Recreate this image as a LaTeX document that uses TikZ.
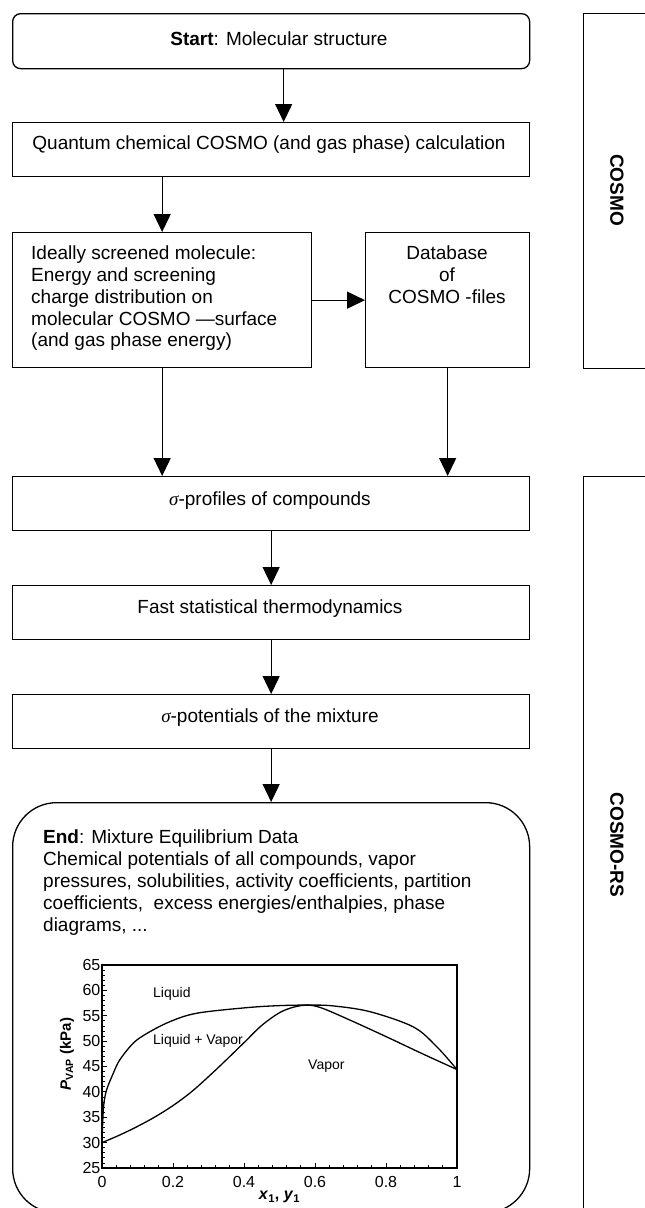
\documentclass[tikz,border=0pt]{standalone}
\usepackage{fontspec}
\setmainfont{Liberation Sans}
\newfontfamily\timesfont{Liberation Serif}
\usetikzlibrary{arrows.meta}
\begin{document}
\begin{tikzpicture}[x=1pt,y=-1pt,
  box/.style={draw, line width=1.3pt, inner sep=0pt, anchor=north west},
  txt/.style={inner sep=0pt, font=\fontsize{19}{21.8}\selectfont},
  arr/.style={line width=1.3pt, -{Triangle[length=18pt,width=17pt]}},
  side/.style={inner sep=0pt, font=\fontsize{19}{21.8}\selectfont\bfseries, rotate=-90},
  ticklab/.style={inner sep=0pt, font=\fontsize{16}{18}\selectfont},
  reglab/.style={inner sep=0pt, font=\fontsize{14}{16}\selectfont, anchor=base west},
  curve/.style={line width=1.3pt, line join=round}
]
\useasboundingbox (0,0) rectangle (645,1208);
\clip (0,0) rectangle (645,1208);
\fill[white] (0,0) rectangle (645,1208);

% boxes
\node[box, rounded corners=8pt, minimum width=517pt, minimum height=55pt] (start) at (12,13) {};
\node[box, minimum width=517pt, minimum height=54pt] (quant) at (12,122) {};
\node[box, minimum width=299pt, minimum height=135pt] (ideal) at (12,232) {};
\node[box, minimum width=164pt, minimum height=135pt] (db) at (365,232) {};
\node[box, minimum width=517pt, minimum height=54pt] (sigp) at (12,476) {};
\node[box, minimum width=517pt, minimum height=54pt] (fast) at (12,585) {};
\node[box, minimum width=517pt, minimum height=54pt] (sigpot) at (12,694) {};
\node[box, rounded corners=44pt, minimum width=517pt, minimum height=410pt] (end) at (12,802) {};
\node[box, minimum width=100pt, minimum height=355pt] (cosmo) at (583,13) {};
\node[box, minimum width=100pt, minimum height=760pt] (cosmors) at (583,476) {};

% texts
\node[txt] (tstart) at (279,39) {\textbf{Start}: Molecular structure};
\node[txt] (tquant) at (269,145) {Quantum chemical COSMO (and gas phase) calculation};
\node[txt, align=left, anchor=west] (tideal) at (31,298.4) {Ideally screened molecule:\\Energy and screening\\charge distribution on\\molecular COSMO —surface\\(and gas phase energy)};
\node[txt, align=center] (tdb) at (447,275) {Database\\of\\COSMO -files};
\node[txt] (tsigp) at (270,501) {{\timesfont\itshape σ}-profiles of compounds};
\node[txt] (tfast) at (270,609) {Fast statistical thermodynamics};
\node[txt] (tsigpot) at (270,718) {{\timesfont\itshape σ}-potentials of the mixture};
\node[txt, align=left, anchor=west, font=\fontsize{19}{22}\selectfont] (tend) at (43,883) {\textbf{End}: Mixture Equilibrium Data\\Chemical potentials of all compounds, vapor\\pressures, solubilities, activity coefficients, partition\\coefficients, \ excess energies/enthalpies, phase\\diagrams, ...};
\node[side] (lcosmo) at (617,190) {COSMO};
\node[side] (lcosmors) at (617,845) {COSMO-RS};

% arrows
\draw[arr] ([xshift=12.5pt]start.south) -- ([xshift=12.5pt]start.south |- quant.north);
\draw[arr] (quant.south -| ideal.north) -- (ideal.north);
\draw[arr] (ideal.east) -- (db.west);
\draw[arr] (ideal.south) -- (ideal.south |- sigp.north);
\draw[arr] (db.south) -- (db.south |- sigp.north);
\draw[arr] (sigp.south) -- (fast.north);
\draw[arr] (fast.south) -- (sigpot.north);
\draw[arr] (sigpot.south) -- (end.north);

% plot
\begin{scope}[shift={(102,1168)}, x=355pt, y=5.075pt]
  \draw[line width=1.2pt] (0,0) rectangle (1,40);
  \foreach \v in {0,5,...,40} \draw[line width=1pt] (0,\v) -- ++(5pt,0);
  \foreach \v in {1,...,39} \draw[line width=0.8pt] (0,\v) -- ++(3pt,0);
  \foreach \u in {0,0.2,0.4,0.6,0.8,1} \draw[line width=1pt] (\u,0) -- ++(0,5pt);
  \foreach \u in {0.04,0.08,0.12,0.16,0.24,0.28,0.32,0.36,0.44,0.48,0.52,0.56,0.64,0.68,0.72,0.76,0.84,0.88,0.92,0.96} \draw[line width=0.8pt] (\u,0) -- ++(0,3pt);
  \foreach \v/\l in {0/25,5/30,10/35,15/40,20/45,25/50,30/55,35/60,40/65}
    \node[ticklab, anchor=east] (yl\l) at ([xshift=-1.5pt]0,\v) {\l};
  \foreach \u/\l/\n in {0/0/a,0.2/0.2/b,0.4/0.4/c,0.6/0.6/d,0.8/0.8/e,1/1/f}
    \node[ticklab] (xl\n) at ([yshift=-14pt]\u,0) {\l};
  \draw[curve] plot[smooth, tension=0.55] coordinates {(0,5) (0.002,9) (0.005,12.5) (0.013,15.4) (0.032,18.7) (0.05,21.3) (0.088,24.6) (0.126,26.5) (0.19,28.8) (0.267,30.5) (0.408,31.6) (0.5,32.0) (0.58,32.1) (0.65,31.95) (0.755,30.8) (0.877,27.8) (0.943,23.9) (1,19.4)};
  \draw[curve] plot[smooth, tension=0.55] coordinates {(0,5) (0.05,6.5) (0.1,8.2) (0.15,10.1) (0.2,12.3) (0.25,14.9) (0.3,18.0) (0.35,21.3) (0.4,24.7) (0.45,28.1) (0.5,30.6) (0.54,31.7) (0.58,32.1) (0.62,31.5) (0.7,29.1) (0.8,25.9) (0.9,22.6) (1,19.4)};
\end{scope}
\node[reglab] (rliq) at (153,997) {Liquid};
\node[reglab] (rlv) at (153,1044) {Liquid + Vapor};
\node[reglab] (rvap) at (308,1069) {Vapor};
\node[ticklab, font=\fontsize{16}{18}\selectfont\bfseries] (xlabel) at (279.5,1197) {\textit{x}\textsubscript{1}, \textit{y}\textsubscript{1}};
\node[ticklab, font=\fontsize{15}{18}\selectfont\bfseries, rotate=90] (ylabel) at (67,1054) {\textit{P}\textsubscript{VAP} (kPa)};
\end{tikzpicture}
\end{document}
